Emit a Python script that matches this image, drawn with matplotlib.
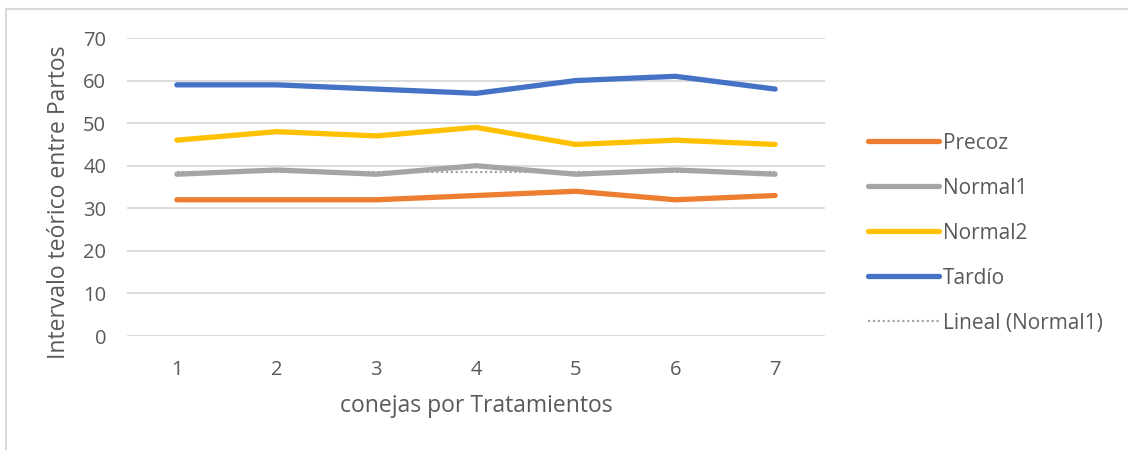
import matplotlib
matplotlib.use("Agg")
import matplotlib.pyplot as plt
import numpy as np
from matplotlib.lines import Line2D

categories = [1, 2, 3, 4, 5, 6, 7]
precoz = [32, 32, 32, 33, 34, 32, 33]
normal1 = [38, 39, 38, 40, 38, 39, 38]
normal2 = [46, 48, 47, 49, 45, 46, 45]
tardio = [59, 59, 58, 57, 60, 61, 58]
yticks = [0, 10, 20, 30, 40, 50, 60, 70]

plt.rcParams['font.family'] = ['Open Sans', 'DejaVu Sans']
txt = '#595959'

fig = plt.figure(figsize=(11.28, 4.5), dpi=100)
ax = fig.add_axes([127/1128, 1-336/450, (825-127)/1128, (336-38)/450])

x = np.array(categories)
lw = 3.8
ax.plot(x, precoz, color='#ED7D31', lw=lw, solid_capstyle='round', solid_joinstyle='round', label='Precoz', zorder=3)
ax.plot(x, normal1, color='#A5A5A5', lw=lw, solid_capstyle='round', solid_joinstyle='round', label='Normal1', zorder=3)
ax.plot(x, normal2, color='#FFC000', lw=lw, solid_capstyle='round', solid_joinstyle='round', label='Normal2', zorder=3)
ax.plot(x, tardio, color='#4472C4', lw=lw, solid_capstyle='round', solid_joinstyle='round', label='Tardío', zorder=3)
coef = np.polyfit(x, normal1, 1)
trend = np.polyval(coef, x)
ax.plot(x, trend, color='#A5A5A5', lw=1.6, ls=(0, (1, 1.2)), label='Lineal (Normal1)', zorder=4)

ax.set_xlim(0.5, 7.5)
ax.set_ylim(0, 70)
ax.set_yticks(yticks)
ax.set_xticks(categories)
ax.grid(axis='y', color='#D9D9D9', lw=1.3)
ax.set_axisbelow(True)
for s in ax.spines.values():
    s.set_visible(False)
ax.tick_params(length=0, colors=txt, labelsize=14.5)
ax.tick_params(axis='y', pad=15)
ax.tick_params(axis='x', pad=17)
ax.set_xlabel('conejas por Tratamientos', color=txt, fontsize=16.5, va='top')
ax.xaxis.set_label_coords(0.5, -0.195)
ax.set_ylabel('Intervalo teórico entre Partos', color=txt, fontsize=16.5)
ax.yaxis.set_label_coords(-0.08, 0.45)

leg = fig.legend(loc='upper left', bbox_to_anchor=(849/1128, 1-114/450), frameon=False,
                 handlelength=3.4, handletextpad=0.22, labelspacing=1.15, fontsize=15)
for t in leg.get_texts():
    t.set_color(txt)

# chart border lines (top and left)
fig.add_artist(Line2D([6/1128, 1], [1-9/450, 1-9/450], color='#D9D9D9', lw=1.5, transform=fig.transFigure))
fig.add_artist(Line2D([6/1128, 6/1128], [0, 1-9/450], color='#D9D9D9', lw=1.5, transform=fig.transFigure))

fig.savefig('out.png', dpi=100)
